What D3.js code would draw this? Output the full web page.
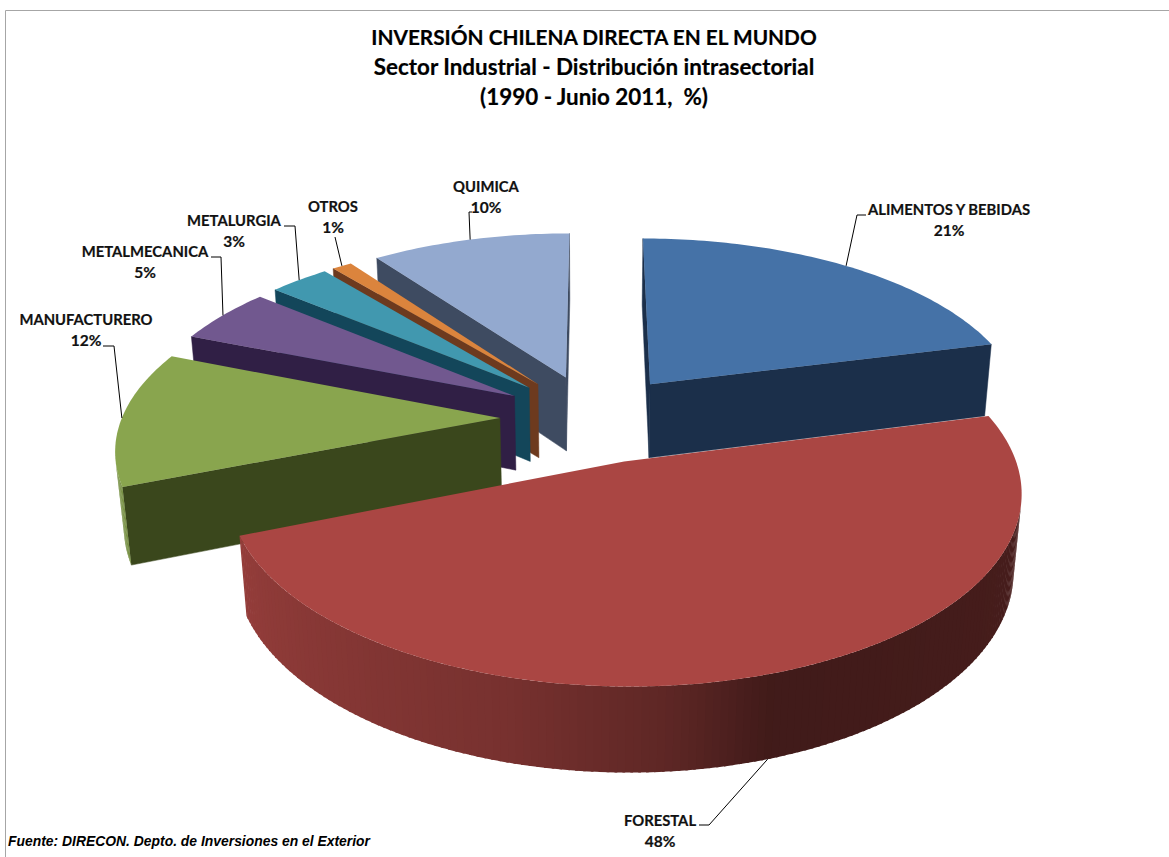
<!DOCTYPE html>
<html>
<head>
<meta charset="utf-8">
<script src="https://cdn.jsdelivr.net/npm/d3@7"></script>
<style>
  html, body { margin: 0; padding: 0; background: #fff; }
  svg { display: block; }
  .title { font-family: Lato, "Open Sans", sans-serif; font-weight: 700; text-anchor: middle; fill: #000; stroke: #000; stroke-width: 0.2px; }
  .label { font-family: Lato, "Open Sans", sans-serif; font-weight: 700; font-size: 14.8px; text-anchor: middle; fill: #111; stroke: #111; stroke-width: 0.2px; }
  .pct { font-size: 15.5px; }
  .source { font-family: "Liberation Sans", Arial, sans-serif; font-weight: 700; font-style: italic; font-size: 13.9px; fill: #000; }
</style>
</head>
<body>
<div class="chart"></div>
<script>
const sectors = ["ALIMENTOS Y BEBIDAS", "FORESTAL", "MANUFACTURERO", "METALMECANICA", "METALURGIA", "OTROS", "QUIMICA"];
const shares = [21, 48, 12, 5, 3, 1, 10];
const titleLines = ["INVERSIÓN CHILENA DIRECTA EN EL MUNDO", "Sector Industrial - Distribución intrasectorial", "(1990 - Junio 2011,  %)"];
const sourceNote = "Fuente: DIRECON. Depto. de Inversiones en el Exterior";

const topColors = ["#4572A7", "#AA4643", "#89A54E", "#71588F", "#4198AF", "#DB843D", "#93A9CF"];
const cutColors = ["#1B2F4A", "#4a1e18", "#3A471C", "#301F45", "#13465A", "#6D3A1E", "#3E4B61"];

// label centre x, first baseline, then the knee points of the leader line
const labelLayout = [
  {x: 949, y: 215, knee: [[857, 215], [866, 215]]},
  {x: 660, y: 826, knee: [[709, 825], [699, 825]]},
  {x: 86, y: 325, knee: [[114, 346], [103, 346]]},
  {x: 145, y: 257, knee: [[221, 257], [211, 257]]},
  {x: 234, y: 226, knee: [[295, 226], [284, 226]]},
  {x: 333, y: 212, knee: [[335, 237]]},
  {x: 486, y: 192, knee: [[469, 212], [472, 212]]}
];

const width = 1169, height = 857;

const svg = d3.select(".chart").append("svg")
    .attr("width", width)
    .attr("height", height);

// chart frame
svg.append("path")
    .attr("d", `M5.5,${height}V10.5H${width}`)
    .attr("fill", "none")
    .attr("stroke", "#a6a6a6");

// camera for the tilted pie
const cx = 594, cy = 418;
const sinE = 0.468, cosE = 0.884, camDist = 5.9, focal = 378 * camDist;
const explode = 0.249, thick = 0.229;

function project(x, v, w) {
    const s = focal / (camDist - v * cosE - w * sinE);
    return [cx + x * s, cy + (v * sinE - w * cosE) * s];
}

const pie = d3.pie().sort(null).startAngle(0).endAngle(2 * Math.PI);
const arcs = pie(shares);

// point of slice d at angle a (0 = back of the pie, clockwise), radius r, height w
function slicePoint(d, a, r, w) {
    const mid = (d.startAngle + d.endAngle) / 2;
    const x = r * Math.sin(a) + explode * Math.sin(mid);
    const v = -r * Math.cos(a) - explode * Math.cos(mid);
    return project(x, v, w);
}

const line = d3.line().curve(d3.curveLinearClosed);

// rim gets darker towards the right hand side
const rimShade = d3.scaleLinear()
    .domain([0, 90, 162, 175, 195, 248, 360].map(d => d * Math.PI / 180))
    .range([0.43, 0.43, 0.38, 0.55, 0.7, 0.87, 0.87]);

function rimColor(base, a) {
    const c = d3.rgb(base), k = rimShade(a);
    return d3.rgb(c.r * k, c.g * k, c.b * k).formatHex();
}

// back slices first, the big front one last
const drawOrder = [6, 5, 4, 3, 2, 0, 1];

drawOrder.forEach(i => {
    const d = arcs[i];
    const g = svg.append("g").attr("class", "slice");
    const steps = Math.max(2, Math.ceil((d.endAngle - d.startAngle) / (Math.PI / 180)));
    const angles = d3.range(steps + 1).map(k => d.startAngle + (d.endAngle - d.startAngle) * k / steps);

    const startFace = [slicePoint(d, 0, 0, 0), slicePoint(d, d.startAngle, 1, 0), slicePoint(d, d.startAngle, 1, -thick), slicePoint(d, 0, 0, -thick)];
    const endFace = [slicePoint(d, d.endAngle, 1, 0), slicePoint(d, 0, 0, 0), slicePoint(d, 0, 0, -thick), slicePoint(d, d.endAngle, 1, -thick)];

    [startFace, endFace].forEach(face => {
        if (d3.polygonArea(face) > 0) {
            g.append("path").attr("d", line(face))
                .attr("fill", cutColors[i])
                .attr("stroke", cutColors[i])
                .attr("stroke-width", 0.5);
        }
    });

    // each rim piece runs a little into the next one so no seams show
    d3.pairs(angles).forEach(([a0, a1]) => {
        const quad = [slicePoint(d, a0, 1, 0), slicePoint(d, a1, 1, 0), slicePoint(d, a1, 1, -thick), slicePoint(d, a0, 1, -thick)];
        if (d3.polygonArea(quad) > 0) {
            const a2 = Math.min(a1 + 0.006, d.endAngle);
            const piece = [slicePoint(d, a0, 1, 0), slicePoint(d, a2, 1, 0), slicePoint(d, a2, 1, -thick), slicePoint(d, a0, 1, -thick)];
            g.append("path").attr("d", line(piece))
                .attr("fill", rimColor(topColors[i], (a0 + a1) / 2));
        }
    });

    const top = [slicePoint(d, 0, 0, 0)].concat(angles.map(a => slicePoint(d, a, 1, 0)));
    g.append("path").attr("d", line(top)).attr("fill", topColors[i]);
});

// leader lines start on the slice edge at its middle angle
arcs.forEach((d, i) => {
    const mid = (d.startAngle + d.endAngle) / 2;
    const front = Math.cos(mid) < -0.5;
    const start = slicePoint(d, mid, 1, front ? -thick : 0);
    svg.append("path")
        .attr("d", d3.line()([start].concat(labelLayout[i].knee)))
        .attr("fill", "none")
        .attr("stroke", "#000")
        .attr("stroke-width", 1);

    const t = svg.append("text").attr("class", "label").attr("x", labelLayout[i].x).attr("y", labelLayout[i].y);
    t.append("tspan").attr("x", labelLayout[i].x).text(sectors[i]);
    t.append("tspan").attr("class", "pct").attr("x", labelLayout[i].x).attr("dy", 21).text(d3.format("d")(shares[i]) + "%");
});

svg.selectAll(".title")
    .data(titleLines)
  .enter().append("text")
    .attr("class", "title")
    .attr("x", 594)
    .attr("y", (d, i) => 45 + i * 30)
    .style("font-size", (d, i) => i === 0 ? "20.8px" : "22.4px")
    .style("white-space", "pre")
    .text(d => d);

svg.append("text")
    .attr("class", "source")
    .attr("x", 8)
    .attr("y", 846)
    .text(sourceNote);
</script>
</body>
</html>
